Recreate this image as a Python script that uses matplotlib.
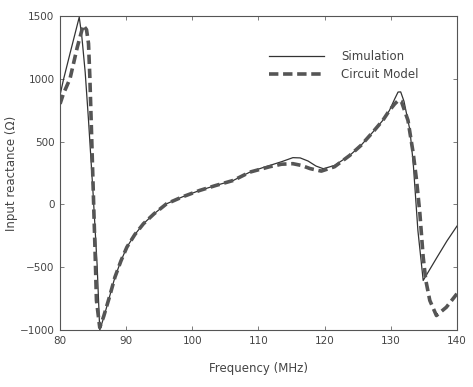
"""Input reactance: simulation vs circuit model."""

import matplotlib

matplotlib.use("Agg")
import matplotlib.pyplot as plt

# Frequency (MHz) and input reactance (ohm)
sim_freq = [80.0, 80.5, 81.5, 82.9, 83.3, 83.8, 84.3, 85.0, 85.6, 86.0,
            86.6, 87.5, 88.3, 89.2, 90.1, 91.3, 92.6, 94.2, 96.1, 98.5,
            101.1, 103.5, 106.2, 108.7, 110.5, 111.7, 113.5, 115.2, 116.3,
            117.5, 118.7, 119.8, 121.5, 123.8, 125.5, 127.3, 128.8, 129.8,
            130.6, 131.1, 131.5, 132.0, 132.9, 133.4, 134.1, 134.9, 135.3,
            137.0, 138.5, 140.0]
sim_react = [870, 990, 1200, 1490, 1330, 1050, 670, 80, -480, -1000,
             -900, -730, -578, -450, -340, -240, -154, -75, 5, 60,
             111, 150, 191, 257, 290, 310, 340, 372, 370,
             345, 305, 284, 310, 390, 470, 576, 669, 748,
             840, 894, 895, 820, 589, 324, -207, -605, -570,
             -420, -290, -173]

model_freq = [80.0, 80.5, 81.5, 82.6, 83.5, 84.0, 84.3, 84.5, 84.7, 85.0,
              85.3, 85.5, 86.0, 86.6, 87.5, 88.3, 89.2, 90.1, 91.3, 92.6,
              94.2, 96.1, 98.5, 101.1, 103.5, 106.2, 108.7, 111.7, 113.5,
              115.2, 116.5, 117.8, 119.5, 121.5, 123.8, 125.5, 127.3, 128.8,
              129.8, 130.6, 131.2, 131.6, 132.6, 133.4, 133.9, 134.4, 134.9,
              135.3, 135.9, 136.9, 138.4, 140.0]
model_react = [800, 880, 1000, 1250, 1425, 1390, 1280, 1014, 670, 138,
               -390, -764, -980, -890, -730, -578, -450, -340, -240, -154,
               -75, 5, 60, 111, 150, 191, 257, 300, 320,
               324, 310, 285, 265, 300, 390, 470, 576, 669,
               748, 800, 830, 820, 669, 404, 191, -73, -420,
               -605, -764, -884, -818, -711]

x_ticks = [80, 90, 100, 110, 120, 130, 140]
y_ticks = [-1000, -500, 0, 500, 1000, 1500]

TEXT_COLOR = "#444444"


def main() -> None:
    """Draw the reactance comparison and save it."""
    fig = plt.figure(figsize=(4.73, 3.87), dpi=100)
    ax = fig.add_axes([0.127, 0.147, 0.839, 0.812])

    ax.plot(sim_freq, sim_react, color="#333333", linewidth=0.9,
            label="Simulation")
    ax.plot(model_freq, model_react, color="#555555", linewidth=2.6,
            linestyle=(0, (2.6, 1.3)), label="Circuit Model")

    ax.set_xlim(80, 140)
    ax.set_ylim(-1000, 1500)
    ax.set_xticks(x_ticks)
    ax.set_yticks(y_ticks)
    ax.tick_params(direction="in", top=True, right=True, length=3,
                   width=0.6, colors="#666666", labelcolor=TEXT_COLOR,
                   labelsize=7.5, pad=4)
    for spine in ax.spines.values():
        spine.set_color("#555555")
        spine.set_linewidth(0.8)

    ax.set_xlabel("Frequency (MHz)", fontsize=8.5, color=TEXT_COLOR,
                  labelpad=12)
    ax.set_ylabel("Input reactance (\u03a9)", fontsize=8.5, color=TEXT_COLOR,
                  labelpad=1)

    legend = ax.legend(loc="upper right", bbox_to_anchor=(0.93, 0.925),
                       frameon=False, fontsize=8.5, handlelength=4.7,
                       handletextpad=1.4, labelspacing=0.45)
    for text in legend.get_texts():
        text.set_color(TEXT_COLOR)

    fig.savefig("out.png", dpi=100)
    plt.close(fig)


if __name__ == "__main__":
    main()
